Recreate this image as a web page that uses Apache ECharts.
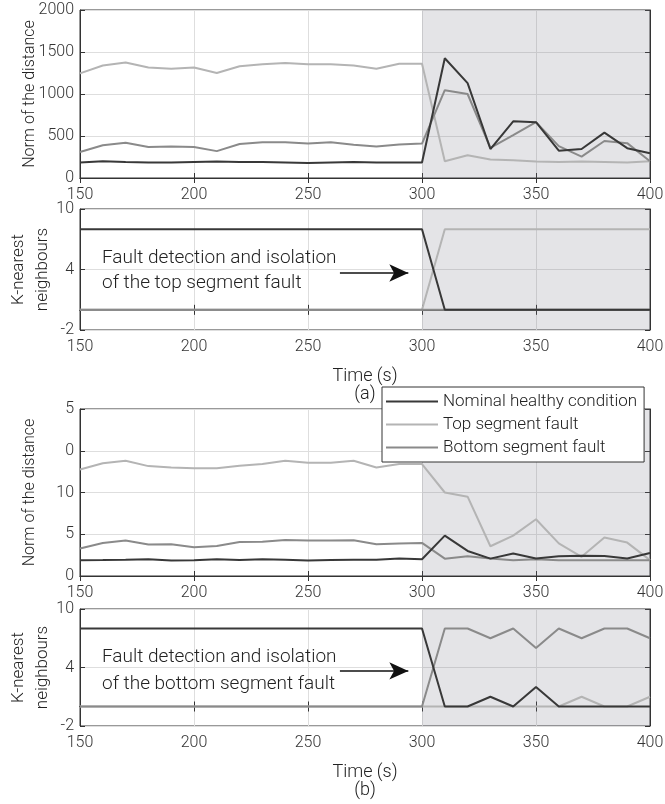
<!DOCTYPE html>
<html lang="en">
<head>
    <meta charset="UTF-8">
    <title>KNN fault detection</title>
</head>
<body style="height: 100%; margin: 0; background: #fff">
    <div id="container" style="width:665px;height:804px"></div>
    <script type="text/javascript" src="https://cdn.jsdelivr.net/npm/echarts@6/dist/echarts.min.js"></script>
    <script type="text/javascript">
        // time stamps (s)
        var time = [150, 160, 170, 180, 190, 200, 210, 220, 230, 240, 250, 260, 270, 280, 290, 300,
            310, 320, 330, 340, 350, 360, 370, 380, 390, 400];
        var seriesNames = ['Nominal healthy condition', 'Top segment fault', 'Bottom segment fault'];

        // (a) top segment fault
        var aNormNominal = [185, 200, 190, 185, 185, 190, 195, 190, 190, 185, 180, 185, 190, 185, 185, 185,
            1425, 1130, 345, 675, 665, 325, 345, 540, 355, 295];
        var aNormTop = [1245, 1340, 1375, 1315, 1300, 1315, 1250, 1330, 1355, 1370, 1355, 1355, 1340, 1300, 1360, 1360,
            200, 270, 220, 210, 195, 190, 195, 190, 185, 200];
        var aNormBottom = [310, 390, 420, 370, 375, 370, 320, 405, 425, 425, 410, 425, 395, 375, 400, 410,
            1045, 1000, 360, 510, 665, 380, 255, 440, 415, 200];
        var aKnnNominal = [8, 8, 8, 8, 8, 8, 8, 8, 8, 8, 8, 8, 8, 8, 8, 8, 0, 0, 0, 0, 0, 0, 0, 0, 0, 0];
        var aKnnTop = [0, 0, 0, 0, 0, 0, 0, 0, 0, 0, 0, 0, 0, 0, 0, 0, 8, 8, 8, 8, 8, 8, 8, 8, 8, 8];
        var aKnnBottom = [0, 0, 0, 0, 0, 0, 0, 0, 0, 0, 0, 0, 0, 0, 0, 0, 0, 0, 0, 0, 0, 0, 0, 0, 0, 0];

        // (b) bottom segment fault
        var bNormNominal = [1.9, 1.92, 1.95, 2.0, 1.85, 1.9, 2.0, 1.92, 2.0, 1.95, 1.85, 1.92, 1.95, 1.95, 2.1, 2.0,
            4.84, 3.0, 2.08, 2.7, 2.1, 2.36, 2.44, 2.4, 2.1, 2.76];
        var bNormTop = [12.76, 13.5, 13.8, 13.16, 13.0, 12.9, 12.9, 13.2, 13.4, 13.8, 13.56, 13.56, 13.8, 13.0, 13.4, 13.4,
            10.0, 9.5, 3.56, 4.84, 6.8, 3.9, 2.3, 4.6, 4.0, 1.9];
        var bNormBottom = [3.3, 3.96, 4.24, 3.76, 3.8, 3.44, 3.6, 4.08, 4.1, 4.3, 4.24, 4.24, 4.28, 3.8, 3.9, 3.96,
            2.08, 2.36, 2.1, 1.9, 2.0, 1.9, 1.9, 1.9, 1.9, 1.9];
        var bKnnNominal = [8, 8, 8, 8, 8, 8, 8, 8, 8, 8, 8, 8, 8, 8, 8, 8, 0, 0, 1, 0, 2, 0, 0, 0, 0, 0];
        var bKnnTop = [0, 0, 0, 0, 0, 0, 0, 0, 0, 0, 0, 0, 0, 0, 0, 0, 0, 0, 0, 0, 0, 0, 1, 0, 0, 1];
        var bKnnBottom = [0, 0, 0, 0, 0, 0, 0, 0, 0, 0, 0, 0, 0, 0, 0, 0, 8, 8, 7, 8, 6, 8, 7, 8, 8, 7];

        // tick labels of the (b) distance axis, as printed
        var bNormTickLabels = ['0', '5', '10', '0', '5'];

        var colors = ['#383838', '#b4b4b4', '#8a8a8a'];
        var font = 'Roboto';
        var dom = document.getElementById('container');
        var myChart = echarts.init(dom);

        function pairs(ys) {
            return time.map(function (t, i) { return [t, ys[i]]; });
        }

        var grids = [
            { left: 80, width: 570, top: 10, height: 168 },
            { left: 80, width: 570, top: 209, height: 121 },
            { left: 80, width: 570, top: 409, height: 167 },
            { left: 80, width: 570, top: 609, height: 117 }
        ];
        grids.forEach(function (g) {
            g.show = true;
            g.borderColor = '#333';
            g.borderWidth = 1;
            g.backgroundColor = '#fff';
            g.containLabel = false;
            g.outerBoundsMode = 'none';
        });

        var yRanges = [
            { min: 0, max: 2000, interval: 500 },
            { min: -2, max: 10, interval: 6 },
            { min: 0, max: 20, interval: 5 },
            { min: -2, max: 10, interval: 6 }
        ];
        var yNames = ['Norm of the distance', 'K-nearest\nneighbours', 'Norm of the distance', 'K-nearest\nneighbours'];
        var xNames = ['', 'Time (s)\n(a)', '', 'Time (s)\n(b)'];

        var xAxis = [], yAxis = [];
        for (var i = 0; i < 4; i++) {
            xAxis.push({
                type: 'value', gridIndex: i, min: 150, max: 400, interval: 50,
                name: xNames[i], nameLocation: 'middle', nameGap: 37,
                nameTextStyle: { fontFamily: font, fontWeight: 300, fontSize: 18, lineHeight: 18, color: '#222' },
                axisLine: { lineStyle: { color: '#333' } },
                axisTick: { inside: true, length: 5, lineStyle: { color: '#333' } },
                axisLabel: { fontFamily: font, fontWeight: 300, fontSize: 16, color: '#333', margin: 9 },
                splitLine: { show: true, lineStyle: { color: '#dedede' } }
            });
            yAxis.push({
                type: 'value', gridIndex: i, min: yRanges[i].min, max: yRanges[i].max, interval: yRanges[i].interval,
                axisLine: { show: true, lineStyle: { color: '#333' } },
                axisTick: { show: true, inside: true, length: 5, lineStyle: { color: '#333' } },
                axisLabel: {
                    fontFamily: font, fontWeight: 300, fontSize: 16, color: '#333', margin: 6,
                    formatter: i === 2 ? function (v) { return bNormTickLabels[v / 5]; } : function (v) { return String(v); }
                },
                splitLine: { show: true, lineStyle: { color: '#dedede' } }
            });
        }
        // mirror ticks on the top and right edges of each box
        for (var j = 0; j < 4; j++) {
            xAxis.push({
                type: 'value', gridIndex: j, position: 'top', min: 150, max: 400, interval: 50,
                axisLine: { lineStyle: { color: '#333' } },
                axisTick: { inside: true, length: 5, lineStyle: { color: '#333' } },
                axisLabel: { show: false }, splitLine: { show: false }
            });
            yAxis.push({
                type: 'value', gridIndex: j, position: 'right',
                min: yRanges[j].min, max: yRanges[j].max, interval: yRanges[j].interval,
                axisLine: { show: true, lineStyle: { color: '#333' } },
                axisTick: { show: true, inside: true, length: 5, lineStyle: { color: '#333' } },
                axisLabel: { show: false }, splitLine: { show: false }
            });
        }

        var panelData = [
            [aNormNominal, aNormTop, aNormBottom],
            [aKnnNominal, aKnnTop, aKnnBottom],
            [bNormNominal, bNormTop, bNormBottom],
            [bKnnNominal, bKnnTop, bKnnBottom]
        ];

        var series = [];
        var drawOrder = [1, 2, 0]; // light first, dark on top
        panelData.forEach(function (set, p) {
            drawOrder.forEach(function (k, n) {
                var s = {
                    name: seriesNames[k], type: 'line', xAxisIndex: p, yAxisIndex: p,
                    data: pairs(set[k]), showSymbol: false, symbol: 'none', silent: true,
                    lineStyle: { color: colors[k], width: 2 }, itemStyle: { color: colors[k] },
                    z: 2 + n, animation: false
                };
                if (n === 0) {
                    s.markArea = {
                        silent: true,
                        itemStyle: { color: 'rgba(120,120,135,0.2)' },
                        data: [[{ xAxis: 300 }, { xAxis: 400 }]]
                    };
                }
                if ((p === 1 || p === 3) && n === 2) {
                    s.markLine = {
                        silent: true, symbol: ['none', 'arrow'], symbolSize: [13, 19],
                        label: { show: false },
                        lineStyle: { color: '#111', width: 1.5, type: 'solid' },
                        data: [[{ coord: [264, 3.65] }, { coord: [294, 3.65] }]]
                    };
                }
                series.push(s);
            });
        });

        function note(x, y, text) {
            return {
                type: 'text', x: x, y: y, z: 100,
                style: { text: text, fill: '#222', font: '300 19px Roboto', verticalAlign: 'middle' }
            };
        }
        // rotated y-axis titles, centred on each panel
        var graphics = [
            note(102, 258, 'Fault detection and isolation'),
            note(102, 283, 'of the top segment fault'),
            note(102, 657, 'Fault detection and isolation'),
            note(102, 684, 'of the bottom segment fault')
        ];
        grids.forEach(function (g, p) {
            var isNorm = p % 2 === 0;
            graphics.push({
                type: 'text', x: isNorm ? 30 : 31, y: g.top + g.height / 2, rotation: Math.PI / 2, z: 100,
                style: {
                    text: yNames[p], fill: '#222', font: isNorm ? '300 16px Roboto' : '300 17px Roboto', lineHeight: 24,
                    align: 'center', verticalAlign: 'middle'
                }
            });
        });

        option = {
            animation: false,
            grid: grids,
            xAxis: xAxis,
            yAxis: yAxis,
            legend: {
                data: seriesNames, orient: 'vertical', left: 382, top: 387,
                backgroundColor: '#fff', borderColor: '#333', borderWidth: 1,
                padding: [6, 7, 6, 4], itemGap: 6, itemWidth: 52, itemHeight: 2, icon: 'rect',
                selectedMode: false,
                textStyle: { fontFamily: font, fontWeight: 300, fontSize: 17, lineHeight: 17, color: '#222' }
            },
            graphic: graphics,
            series: series
        };
        myChart.setOption(option);
    </script>
</body>
</html>
